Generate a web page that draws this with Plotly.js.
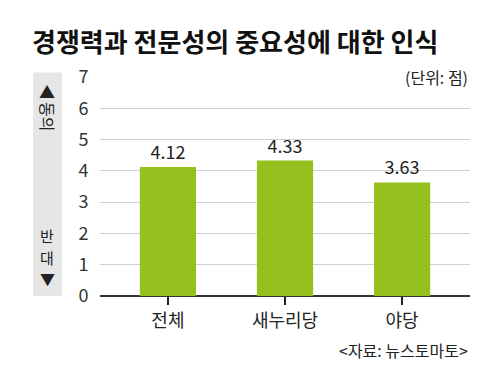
<!DOCTYPE html>
<html><head><meta charset="utf-8">
<script src="https://cdn.plot.ly/plotly-3.0.1.min.js"></script>
<style>html,body{margin:0;padding:0;background:#fff}#c{width:500px;height:387px}</style>
</head><body><div id="c"></div>
<script>
const categories = ['전체', '새누리당', '야당'];
const values = [4.12, 4.33, 3.63];
const valueLabels = ['4.12', '4.33', '3.63'];
const yTicks = [0, 1, 2, 3, 4, 5, 6, 7];

const FONT = '"Noto Sans CJK KR", "Noto Sans", sans-serif';
const trace = {
  type: 'bar', x: categories, y: values,
  text: valueLabels, textposition: 'outside', cliponaxis: false,
  textfont: {family: FONT, size: 18, color: '#222'},
  marker: {color: '#95c11f'}, width: 0.48, hoverinfo: 'none'
};
const side = (text, y, size, extra) => Object.assign({xref: 'paper', yref: 'paper', x: -0.142, y: y,
  xanchor: 'center', yanchor: 'middle', showarrow: false, borderpad: 0,
  text: text, font: {family: FONT, size: size, color: '#222'}}, extra || {});
const layout = {
  width: 500, height: 387,
  margin: {l: 100, r: 30, t: 77, b: 91},
  paper_bgcolor: '#fff', plot_bgcolor: '#fff',
  showlegend: false,
  font: {family: FONT, color: '#222'},
  title: {text: '<b>경쟁력과 전문성의 중요성에 대한 인식</b>', x: 0.064, xanchor: 'left', y: 0.89, yanchor: 'middle',
    font: {family: FONT, size: 26, color: '#111'}},
  xaxis: {range: [-0.58, 2.58], showgrid: false, zeroline: false, showline: false,
    ticks: 'outside', ticklen: 8, tickwidth: 2, tickcolor: '#222',
    tickfont: {family: FONT, size: 18, color: '#222'}, fixedrange: true},
  yaxis: {range: [0, 7], tickvals: yTicks, showgrid: true, gridcolor: '#d0d0d0', gridwidth: 1,
    zeroline: true, zerolinecolor: '#333', zerolinewidth: 1.5,
    ticks: 'outside', ticklen: 7, tickcolor: 'rgba(0,0,0,0)',
    tickfont: {family: FONT, size: 18, color: '#333'}, fixedrange: true},
  shapes: [
    {type: 'rect', xref: 'paper', yref: 'paper', x0: -0.181, x1: -0.103, y0: 0, y1: 1.02,
      fillcolor: '#e6e6e6', line: {width: 0}, layer: 'below'}
  ],
  annotations: [
    {xref: 'paper', yref: 'paper', x: 1, y: 1.0, xanchor: 'right', yanchor: 'middle', showarrow: false,
      text: '(단위: 점)', font: {family: FONT, size: 16, color: '#222'}},
    side('▲', 0.935, 16),
    side('동의', 0.82, 16, {textangle: 90}),
    side('반', 0.274, 15),
    side('대', 0.178, 15),
    side('▼', 0.082, 15),
    {xref: 'paper', yref: 'paper', x: 1, y: -0.245, xanchor: 'right', yanchor: 'middle', showarrow: false,
      text: '&lt;자료: 뉴스토마토&gt;', font: {family: FONT, size: 16, color: '#222'}}
  ]
};
Plotly.newPlot('c', [trace], layout, {displayModeBar: false, staticPlot: true});
</script></body></html>
